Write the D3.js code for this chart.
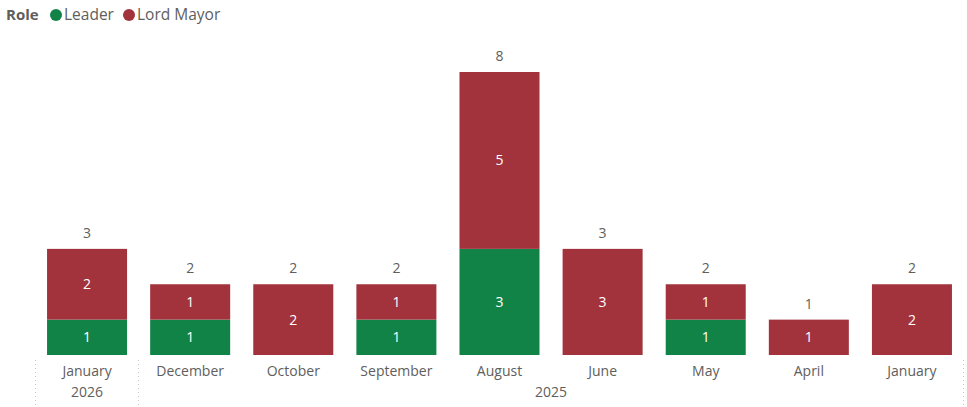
<!DOCTYPE html>
<html><head><meta charset="utf-8">
<script src="https://cdn.jsdelivr.net/npm/d3@7"></script>
<style>body{margin:0;background:#fff;}svg{display:block;font-family:"Segoe UI","Open Sans","Noto Sans",sans-serif;}</style>
</head><body><svg id="c" width="967" height="407"></svg>
<script>
const months = ["January","December","October","September","August","June","May","April","January"];
const years = ["2026","2025","2025","2025","2025","2025","2025","2025","2025"];
const leader = [1,1,0,1,3,0,1,0,0];
const lordMayor = [2,1,2,1,5,3,1,1,2];
const seriesNames = ["Leader","Lord Mayor"];
const colors = ["#128346","#A2333D"];

const svg = d3.select("#c");
const ids = months.map((m,i)=>i);
const x = d3.scaleBand().domain(ids).range([35.5,963.5]).paddingInner(0.224).paddingOuter(0.112);
const y = d3.scaleLinear().domain([0,8]).range([355,72]);

const data = ids.map(i=>({i, Leader:leader[i], "Lord Mayor":lordMayor[i]}));
const stack = d3.stack().keys(seriesNames)(data);

stack.forEach((s,si)=>{
  const g = svg.append("g");
  s.forEach(d=>{
    const v = d[1]-d[0];
    if(v<=0) return;
    g.append("rect").attr("x",x(d.data.i)).attr("width",x.bandwidth())
      .attr("y",y(d[1])).attr("height",y(d[0])-y(d[1])).attr("fill",colors[si]);
    g.append("text").attr("x",x(d.data.i)+x.bandwidth()/2).attr("y",(y(d[0])+y(d[1]))/2+5)
      .attr("text-anchor","middle").attr("fill","#fff").attr("font-size",14).text(v);
  });
});

// totals
data.forEach(d=>{
  const t = d.Leader + d["Lord Mayor"];
  svg.append("text").attr("x",x(d.i)+x.bandwidth()/2).attr("y",y(t)-11)
    .attr("text-anchor","middle").attr("fill","#605E5C").attr("font-size",14).text(t);
});

// month axis
const xa = svg.append("g").attr("transform","translate(0,355)")
  .call(d3.axisBottom(x).tickSize(0).tickPadding(11).tickFormat(i=>months[i]));
xa.select(".domain").remove();
xa.selectAll("text").attr("fill","#605E5C").attr("font-size",14).attr("font-family","'Segoe UI','Open Sans','Noto Sans',sans-serif");

// year groups
const groups = d3.groups(ids, i=>years[i]+"_"+(i===0?"a":"b"));
const sep = [];
groups.forEach(([k,arr])=>{
  const first = arr[0], last = arr[arr.length-1];
  const cx = (x(first)+x(last)+x.bandwidth())/2;
  svg.append("text").attr("x",cx).attr("y",397).attr("text-anchor","middle")
    .attr("fill","#605E5C").attr("font-size",14).text(years[first]);
  sep.push(x(first)-x.step()*x.paddingInner()/2);
});
sep.push(x(ids[ids.length-1])+x.bandwidth()+x.step()*x.paddingInner()/2);
sep.forEach(sx=>{
  svg.append("line").attr("x1",sx).attr("x2",sx).attr("y1",360).attr("y2",407)
    .attr("stroke","#C8C6C4").attr("stroke-width",1).attr("stroke-dasharray","1,3");
});

// legend
const lg = svg.append("g");
lg.append("text").attr("x",6).attr("y",20).attr("font-weight","bold").attr("fill","#605E5C").attr("font-size",15).text("Role");
const lx=[56,129];
seriesNames.forEach((n,i)=>{
  lg.append("circle").attr("cx",lx[i]).attr("cy",15).attr("r",6).attr("fill",colors[i]);
  lg.append("text").attr("x",lx[i]+8).attr("y",20).attr("fill","#605E5C").attr("font-size",15.5).text(n);
});
</script></body></html>
